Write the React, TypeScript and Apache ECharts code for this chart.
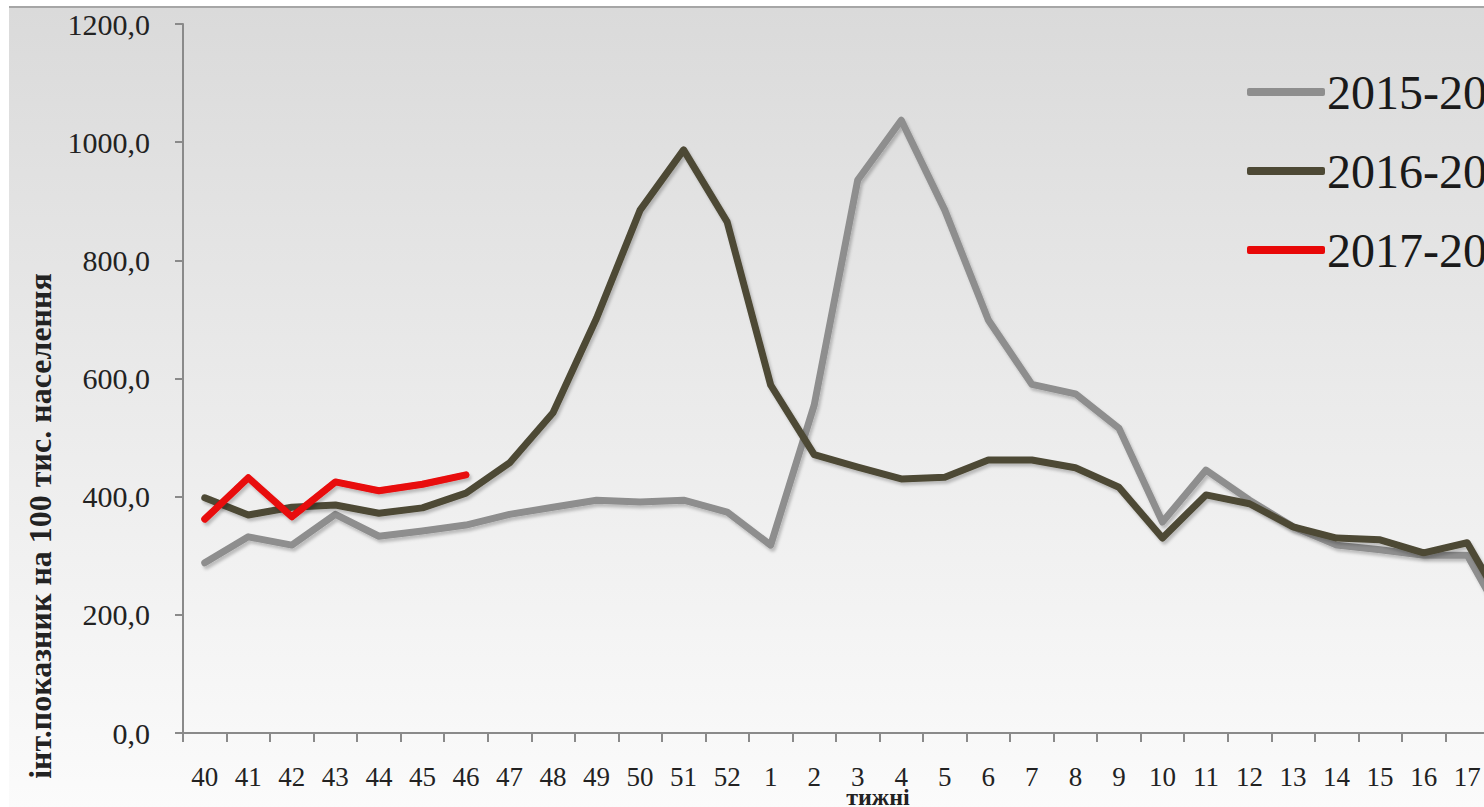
import React, { useEffect, useRef } from "react";
import * as echarts from "echarts";

const weeks = [
  "40", "41", "42", "43", "44", "45", "46", "47", "48", "49", "50", "51", "52",
  "1", "2", "3", "4", "5", "6", "7", "8", "9", "10", "11", "12", "13", "14", "15", "16", "17", "18", "19",
];
const season1516 = [
  288, 332, 318, 370, 333, 342, 352, 370, 382, 394, 391, 394, 374,
  318, 555, 936, 1037, 885, 699, 590, 574, 516, 357, 445, 394, 349, 318, 310, 301, 301, 170, 160,
];
const season1617 = [
  398, 369, 382, 386, 372, 381, 406, 457, 542, 702, 885, 987, 865,
  589, 471, 450, 430, 433, 462, 462, 449, 416, 330, 403, 388, 349, 330, 327, 305, 322, 195, 185,
];
const season1718 = [362, 432, 366, 425, 410, 421, 437];
const seriesNames = ["2015-2016", "2016-2017", "2017-2018"];
const yTicks = { min: 0, max: 1200, interval: 200 };

const SERIF = "'Liberation Serif', 'DejaVu Serif', serif";

export default function App() {
  const ref = useRef<HTMLDivElement>(null);

  useEffect(() => {
    if (!ref.current) return;
    const chart = echarts.init(ref.current, undefined, { renderer: "svg" });
    const shadow = {
      shadowColor: "rgba(0,0,0,0.22)",
      shadowBlur: 3,
      shadowOffsetX: 2,
      shadowOffsetY: 3,
    };
    const mk = (name: string, data: number[], color: string) => ({
      name,
      type: "line",
      data,
      showSymbol: false,
      symbol: "none",
      itemStyle: { color },
      lineStyle: { color, width: 7, cap: "round", join: "round", ...shadow },
    });
    chart.setOption({
      animation: false,
      backgroundColor: new echarts.graphic.LinearGradient(0, 0, 0, 1, [
        { offset: 0, color: "#dadada" },
        { offset: 0.5, color: "#ebebeb" },
        { offset: 1, color: "#fbfbfb" },
      ]),
      grid: { left: 174, top: 16, width: 1393, height: 709 },
      legend: {
        orient: "vertical",
        left: 1233,
        top: 55,
        itemWidth: 78,
        itemHeight: 8,
        itemGap: 31,
        icon: "roundRect",
        textStyle: { fontFamily: SERIF, fontSize: 48, color: "#1a1a1a", padding: [0, 0, 0, -3] },
        data: seriesNames,
      },
      xAxis: {
        type: "category",
        data: weeks,
        boundaryGap: true,
        axisLine: { lineStyle: { color: "#8a8a8a", width: 2 } },
        axisTick: { show: true, length: 9, interval: 0, lineStyle: { color: "#8a8a8a", width: 2 } },
        axisLabel: {
          interval: 0,
          margin: 30,
          fontFamily: SERIF,
          fontSize: 27,
          color: "#222",
        },
      },
      yAxis: {
        type: "value",
        min: yTicks.min,
        max: yTicks.max,
        interval: yTicks.interval,
        splitLine: { show: false },
        axisLine: { show: true, lineStyle: { color: "#8a8a8a", width: 2 } },
        axisTick: { show: true, length: 8, lineStyle: { color: "#8a8a8a", width: 2 } },
        axisLabel: {
          margin: 33,
          fontFamily: SERIF,
          fontSize: 30,
          color: "#222",
          formatter: (v: number) => v.toFixed(1).replace(".", ","),
        },
      },
      graphic: [
        {
          type: "text",
          x: 31,
          y: 518,
          rotation: Math.PI / 2,
          style: {
            text: "інт.показник на 100 тис. населення",
            font: `bold 32px ${SERIF}`,
            fill: "#222",
            align: "center",
            verticalAlign: "middle",
          },
        },
        {
          type: "text",
          x: 869,
          y: 789,
          style: {
            text: "тижні",
            font: `bold 24px ${SERIF}`,
            fill: "#222",
            align: "center",
            verticalAlign: "middle",
          },
        },
      ],
      series: [
        mk(seriesNames[0], season1516, "#8e8e8e"),
        mk(seriesNames[1], season1617, "#4d4935"),
        mk(seriesNames[2], season1718, "#e80808"),
      ],
    });
    return () => chart.dispose();
  }, []);

  return (
    <div
      style={{
        position: "fixed",
        left: 0,
        top: 0,
        width: 1484,
        height: 807,
        overflow: "hidden",
        background: "#fff",
      }}
    >
      <div style={{ position: "absolute", left: 9, top: 6, width: 1475, height: 2, background: "#a6a6a6" }} />
      <div ref={ref} style={{ position: "absolute", left: 9, top: 8, width: 1700, height: 800 }} />
    </div>
  );
}
